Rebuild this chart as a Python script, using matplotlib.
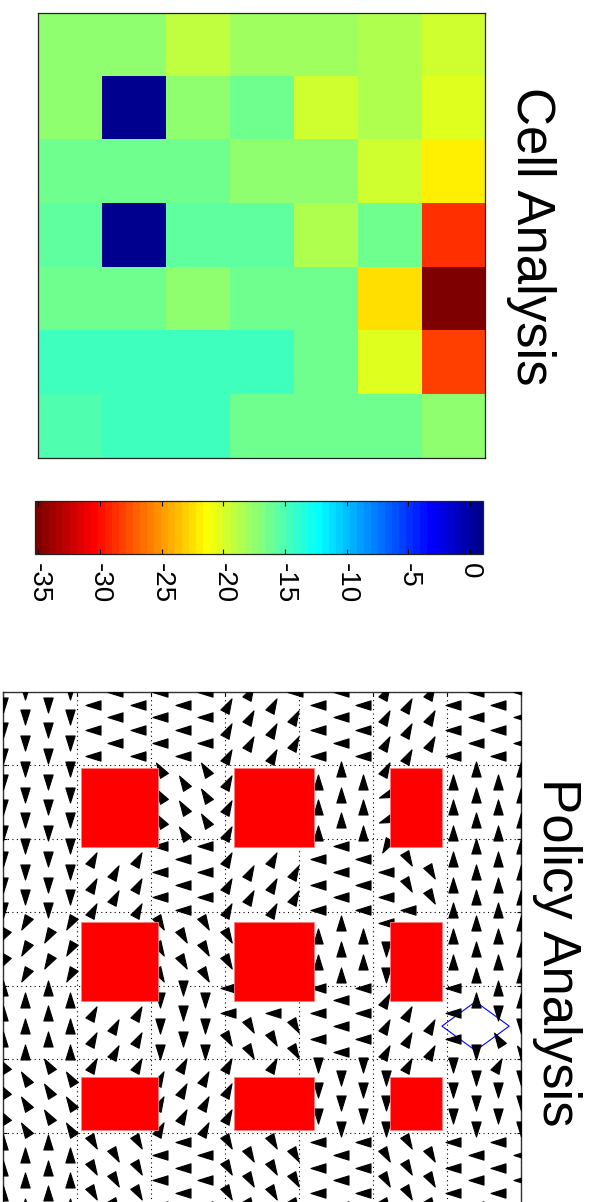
import numpy as np
import matplotlib
matplotlib.use("Agg")
import matplotlib.pyplot as plt
from matplotlib.colors import ListedColormap
from matplotlib.markers import MarkerStyle
from matplotlib.path import Path
from matplotlib.patches import Rectangle, Polygon

plt.rcParams['font.family'] = ['Liberation Sans', 'DejaVu Sans']
plt.rcParams['axes.unicode_minus'] = False

# ---------------- data ----------------
# cell values, rows listed top to bottom as drawn
cell_values = np.array([
    [-17.1, -17.1, -19.0, -18.0, -18.1, -18.7, -19.7],
    [-17.1,   1.08, -17.1, -16.5, -19.5, -18.6, -20.4],
    [-16.0, -16.0, -16.0, -17.1, -17.5, -19.9, -21.9],
    [-15.8,   1.08, -15.6, -15.6, -18.4, -16.1, -28.8],
    [-16.3, -16.3, -17.1, -16.5, -16.5, -22.5, -35.26],
    [-14.8, -14.3, -14.8, -14.8, -16.0, -20.4, -28.2],
    [-15.1, -14.8, -14.8, -16.1, -16.5, -16.1, -17.1],
])
cbar_ticks = [-35, -30, -25, -20, -15, -10, -5, 0]

# obstacles (x spans and y spans of the blocked regions) and goal state
obstacle_x = [(1.06, 2.10), (3.13, 4.21), (5.24, 5.94)]
obstacle_y = [(1.04, 2.11), (3.13, 4.21), (5.24, 5.96)]
goal = (6.39, 4.55)

# policy directions on a staggered sample grid, one string per column,
# sampled states listed top to bottom ('.' = no arrow shown)
direction_angle = {'L': 180, 'U': 90, 'D': 270, 'a': 62, 'b': 122,
                   'c': 240, 'e': 300, 'f': 200}
policy_columns = [
    "DDDDDDDDDccUUUbbbUUU",
    "DDDDDDDDDcccUUUbbbUUU",
    "DDDDDDDDDccUUUbbbUUU",
    "DDDDDDDDDcccUUUbbbUUU",
    "LLL...aaa...aaa..eee",
    "LLL....aa....aa...eee",
    "LLL...aaa...aaa..eee",
    "LLLbbbLLLeeeDDDaaaLLL",
    "LLLbbbLLLeeDDDaaaLLL",
    "LLLbbbLLLeeeDDDaaaLLL",
    "aaaaaaaaaeeLLeaaaeee",
    "aaa....aa....ee...eee",
    "aaa...aaa...Lea..eee",
    "Laa....aa....ee...eee",
    "LLLUUULLLUULLLDDDLLL",
    "LLLUUULLLUUULLLDDDLLL",
    "LLLUUULLLUULLLDDDLLL",
    "aaaaffcLLLDDaaaDDDeee",
    "aaa...eeL...aaa..eee",
    "aaa....ee....aa...eee",
    "LLLUUUUUUUULLLDDDLLL",
    "LLLUUUUUUUUUU.DDDDLLL",
    "LLLUUUUUUUUUDbaDDLLL",
    "LLLUUUUUUUUUUDbDDDLLL",
]
grid_size = 7.0
col_step = grid_size / (len(policy_columns) - 1)
row_step = 0.35


# ---------------- colormap (64-level jet, reversed) ----------------
def jet64():
    i = np.arange(1, 65)
    r = np.clip(np.minimum((i - 24) / 16, (72 - i) / 16), 0, 1)
    g = np.clip(np.minimum((i - 8) / 16, (56 - i) / 16), 0, 1)
    b = np.clip(np.minimum((i + 8) / 16, (40 - i) / 16), 0, 1)
    return np.column_stack([r, g, b])


cmap = ListedColormap(jet64()[::-1])

W, H = 593, 1202
fig = plt.figure(figsize=(W / 100, H / 100), dpi=100)
fig.patch.set_facecolor('white')


def px_axes(left, top, right, bottom):
    return fig.add_axes([left / W, 1 - bottom / H, (right - left) / W, (bottom - top) / H])


# ---------------- cell analysis heatmap ----------------
ax1 = px_axes(37.8, 13.0, 485.3, 458.3)
vmin, vmax = cell_values.min(), cell_values.max()
im = ax1.imshow(cell_values, cmap=cmap, vmin=vmin, vmax=vmax,
                aspect='auto', interpolation='nearest')
ax1.set_xticks([])
ax1.set_yticks([])
for s in ax1.spines.values():
    s.set_color('#222222')
    s.set_linewidth(0.9)

fig.text(531 / W, 1 - 236 / H, "Cell Analysis", rotation=-90,
         ha='center', va='center', fontsize=38)

# colorbar
cax = px_axes(35.2, 500.7, 483.3, 554.3)
cb = fig.colorbar(im, cax=cax, orientation='horizontal', ticks=cbar_ticks)
cb.outline.set_edgecolor('#222222')
cb.outline.set_linewidth(0.9)
cax.set_xticklabels([str(t) for t in cbar_ticks])
cax.tick_params(axis='x', direction='in', top=True, bottom=True, length=3.5,
                width=0.8, labelsize=20, pad=6)
for lbl in cax.get_xticklabels():
    lbl.set_rotation(-90)
    lbl.set_va('top')
    lbl.set_ha('center')

# ---------------- policy analysis ----------------
ax2 = px_axes(2.7, 691.7, 2.7 + 7 * 74.0, 691.7 + 7 * 73.5)
ax2.set_xlim(0, grid_size)
ax2.set_ylim(grid_size, 0)
ax2.set_xticks(np.arange(0, 8))
ax2.set_yticks(np.arange(0, 8))
ax2.tick_params(direction='in', length=3, width=0.8, top=True, right=True,
                labelbottom=False, labelleft=False)
ax2.grid(True, linestyle=(0, (1, 3)), color='black', linewidth=0.8)
ax2.set_axisbelow(True)
for s in ax2.spines.values():
    s.set_color('#333333')
    s.set_linewidth(1.0)

# arrowhead marker pointing along +x
tri = Path([(0.5, 0.0), (-0.5, 0.31), (-0.5, -0.31), (0.5, 0.0)],
           [Path.MOVETO, Path.LINETO, Path.LINETO, Path.CLOSEPOLY])

points = {k: ([], []) for k in direction_angle}
for ci, col in enumerate(policy_columns):
    offset = 0.5 * row_step if ci % 2 == 0 else 0.0
    for rj, code in enumerate(col):
        if code == '.':
            continue
        points[code][0].append(ci * col_step)
        points[code][1].append(rj * row_step + offset)

for code, (xs, ys) in points.items():
    if not xs:
        continue
    m = MarkerStyle(tri).rotated(deg=direction_angle[code])
    ax2.scatter(xs, ys, marker=m, s=10.8 ** 2, c='black', edgecolors='black',
                linewidths=0.8, zorder=3, clip_on=True)

for (x0, x1) in obstacle_x:
    for (y0, y1) in obstacle_y:
        ax2.add_patch(Rectangle((x0, y0), x1 - x0, y1 - y0, facecolor='red',
                                edgecolor='#ff8080', linewidth=0.6, zorder=4))

gx, gy = goal
ax2.add_patch(Polygon([(gx - 0.455, gy), (gx, gy - 0.333), (gx + 0.455, gy),
                       (gx, gy + 0.333)], closed=True, fill=False,
                      edgecolor='blue', linewidth=0.8, zorder=2.5))

fig.text(557 / W, 1 - 952 / H, "Policy Analysis", rotation=-90,
         ha='center', va='center', fontsize=38)

fig.savefig("out.png", dpi=100, facecolor='white')
